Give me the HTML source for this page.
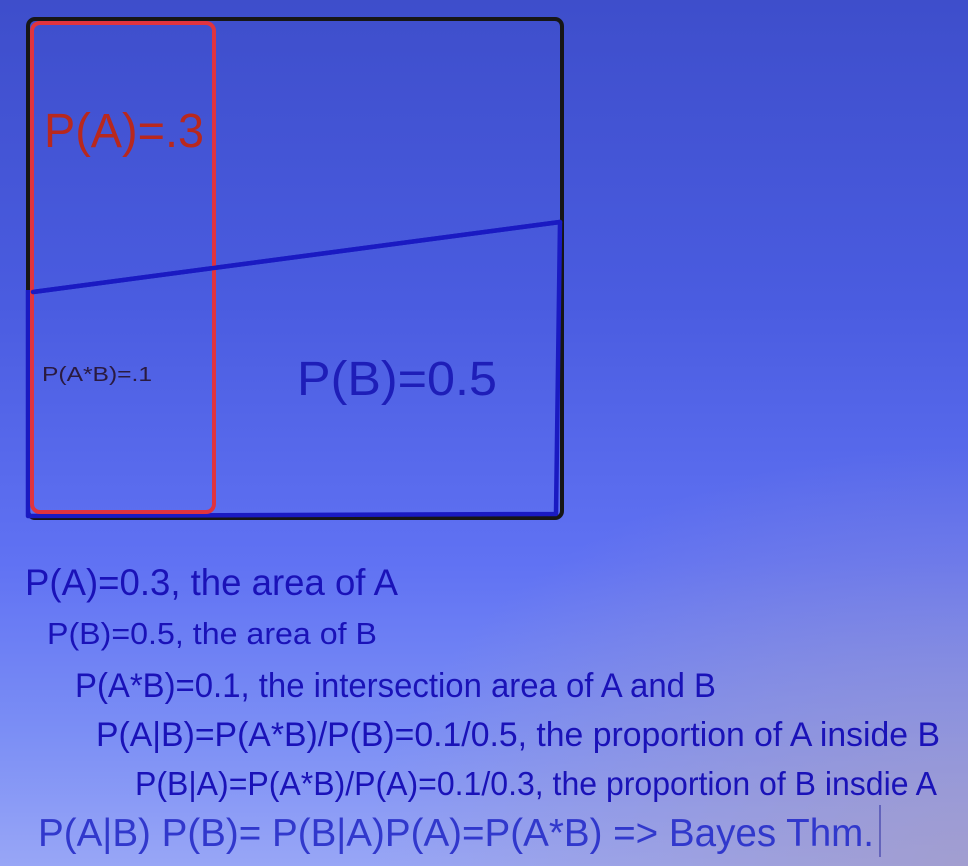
<!DOCTYPE html>
<html><head><meta charset="utf-8"><style>
html,body{margin:0;padding:0;width:968px;height:866px;overflow:hidden}
body{background:linear-gradient(180deg,#3e4ecb 0%,#4a5ce0 35%,#6072f3 65%,#7c8ff5 85%,#98a6f6 100%);position:relative}
#ov{position:absolute;left:0;top:0;width:968px;height:866px;background:radial-gradient(ellipse 600px 420px at 968px 866px,rgba(165,155,195,0.75) 0%,rgba(165,155,195,0) 100%)}
svg{position:absolute;left:0;top:0}
text{font-family:"Liberation Sans",sans-serif}
</style></head><body>
<div id="ov"></div>
<svg width="968" height="866">
<rect x="28" y="19" width="534" height="499" rx="7" fill="none" stroke="#161616" stroke-width="4"/>
<path d="M28,290 L28,516 L556,514 L560,222 L33,292" fill="none" stroke="#1a1ac2" stroke-width="4.5" stroke-linejoin="round"/>
<rect x="32" y="23" width="182" height="489" rx="8" fill="none" stroke="#e0343e" stroke-width="4"/>
<line x1="33" y1="292" x2="560" y2="222" stroke="#1a1ac2" stroke-width="4.5" stroke-linecap="round"/>
<text x="44" y="147" font-size="48" fill="#b8281e" textLength="160" lengthAdjust="spacingAndGlyphs">P(A)=.3</text>
<text x="42" y="381" font-size="20" fill="#2a1a40" textLength="110" lengthAdjust="spacingAndGlyphs">P(A*B)=.1</text>
<text x="297" y="395" font-size="48" fill="#1e1eb8" textLength="200" lengthAdjust="spacingAndGlyphs">P(B)=0.5</text>
<g fill="#1a12b8">
<text x="25" y="595" font-size="37" textLength="373" lengthAdjust="spacingAndGlyphs">P(A)=0.3, the area of A</text>
<text x="47" y="644" font-size="31" textLength="330" lengthAdjust="spacingAndGlyphs">P(B)=0.5, the area of B</text>
<text x="75" y="697" font-size="34" textLength="641" lengthAdjust="spacingAndGlyphs">P(A*B)=0.1, the intersection area of A and B</text>
<text x="96" y="746" font-size="34" textLength="844" lengthAdjust="spacingAndGlyphs">P(A|B)=P(A*B)/P(B)=0.1/0.5, the proportion of A inside B</text>
<text x="135" y="795" font-size="33" textLength="802" lengthAdjust="spacingAndGlyphs">P(B|A)=P(A*B)/P(A)=0.1/0.3, the proportion of B insdie A</text>
</g>
<text x="38" y="846" font-size="39" fill="#3138cc" textLength="836" lengthAdjust="spacingAndGlyphs">P(A|B) P(B)= P(B|A)P(A)=P(A*B) =&gt; Bayes Thm.</text>
<line x1="880" y1="805" x2="880" y2="857" stroke="#2a2aa0" stroke-width="1"/>
</svg>
</body></html>
